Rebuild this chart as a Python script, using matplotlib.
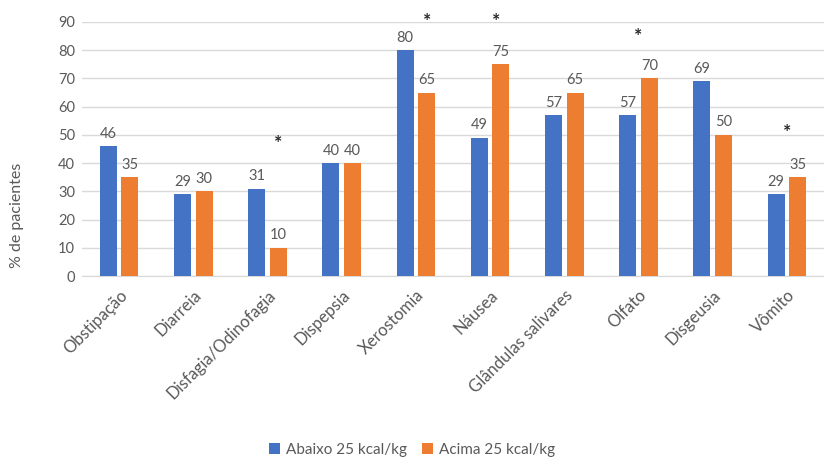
import numpy as np
import matplotlib.pyplot as plt

plt.rcParams['font.family'] = ['Lato', 'DejaVu Sans']

# data
categorias = ['Obstipação', 'Diarreia', 'Disfagia/Odinofagia', 'Dispepsia', 'Xerostomia',
              'Náusea', 'Glândulas salivares', 'Olfato', 'Disgeusia', 'Vômito']
abaixo = [46, 29, 31, 40, 80, 49, 57, 57, 69, 29]
acima = [35, 30, 10, 40, 65, 75, 65, 70, 50, 35]
serie_nomes = ['Abaixo 25 kcal/kg', 'Acima 25 kcal/kg']

# significant differences (*): category index -> (x shift, height of mark)
sig = {2: (0.145, 47), 4: (0.145, 90), 5: (0.08, 90), 7: (0.0, 85), 9: (0.0, 51)}

azul = '#4472C4'
laranja = '#ED7D31'
cinza = '#595959'

fig = plt.figure(figsize=(8.24, 4.57), dpi=100)
ax = fig.add_axes([0.0995, 0.396, 0.9005, 0.556])

x = np.arange(len(categorias))
w = 0.23
off = 0.145
b1 = ax.bar(x - off, abaixo, w, color=azul, label=serie_nomes[0], zorder=3)
b2 = ax.bar(x + off, acima, w, color=laranja, label=serie_nomes[1], zorder=3)

for bars, vals in ((b1, abaixo), (b2, acima)):
    for r, v in zip(bars, vals):
        ax.annotate(str(v), (r.get_x() + r.get_width() / 2, v), xytext=(0, 4),
                    textcoords='offset points', ha='center', va='bottom',
                    fontsize=10.5, color=cinza)

for i, (dx, yy) in sig.items():
    ax.text(i + dx, yy, '*', ha='center', va='center', fontsize=14,
            fontweight='bold', color='#262626')

ax.set_xlim(-0.5, len(categorias) - 0.5)
ax.set_ylim(0, 90)
ax.set_yticks(range(0, 91, 10))
ax.grid(axis='y', color='#d9d9d9', linewidth=1, zorder=0)
for s in ['top', 'right', 'left']:
    ax.spines[s].set_visible(False)
ax.spines['bottom'].set_color('#d9d9d9')
ax.tick_params(axis='both', length=0, colors=cinza, labelsize=10.5)
ax.tick_params(axis='y', pad=5)
ax.tick_params(axis='x', pad=8)
ax.set_xticks(x)
ax.set_xticklabels(categorias, rotation=45, ha='right', rotation_mode='anchor',
                   fontsize=12)
ax.set_ylabel('% de pacientes', color=cinza, fontsize=11.5)
ax.yaxis.set_label_coords(-0.078, 0.24)

fig.legend(handles=[b1, b2], loc='lower center', bbox_to_anchor=(0.5, -0.03), ncol=2,
           frameon=False, fontsize=11, labelcolor=cinza, handlelength=0.7,
           handleheight=0.7, columnspacing=1.0, handletextpad=0.4)

fig.savefig('out.png', dpi=100)
